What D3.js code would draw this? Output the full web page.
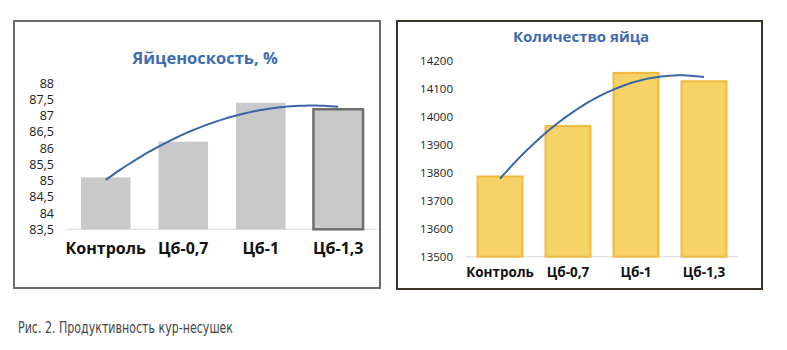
<!DOCTYPE html>
<html><head><meta charset="utf-8">
<script src="https://cdn.jsdelivr.net/npm/d3@7"></script>
<style>body{margin:0;background:#fff}svg{display:block}</style>
</head><body>
<svg id="c" width="787" height="350"></svg>
<script>
const categories = ["Контроль", "Цб-0,7", "Цб-1", "Цб-1,3"];
const eggRate = [85.1, 86.2, 87.4, 87.2];
const eggRateTicks = [83.5, 84, 84.5, 85, 85.5, 86, 86.5, 87, 87.5, 88];
const eggCount = [13790, 13970, 14160, 14130];
const eggCountTicks = [13500, 13600, 13700, 13800, 13900, 14000, 14100, 14200];
const title1 = "Яйценоскость, %";
const title2 = "Количество яйца";
const caption = "Рис. 2. Продуктивность кур-несушек";

const svg = d3.select("#c");
const fmt = d => String(d).replace(".", ",");
const FONT = "'Open Sans', sans-serif";

// quadratic least-squares trendline (like Excel polynomial order 2)
function polyFit(vals) {
  const n = vals.length, xs = vals.map((_, i) => i + 1);
  const mx = d3.mean(xs), my = d3.mean(vals);
  const u = xs.map(x => x - mx);
  const su2 = d3.sum(u, v => v * v) / n;
  const p2 = u.map(v => v * v - su2);
  const b1 = d3.sum(u, (v, i) => v * vals[i]) / d3.sum(u, v => v * v);
  const b2 = d3.sum(p2, (v, i) => v * vals[i]) / d3.sum(p2, v => v * v);
  return x => { const t = x - mx; return my + b1 * t + b2 * (t * t - su2); };
}

function chart(o) {
  const g = svg.append("g");
  g.append("rect").attr("x", o.frame[0]).attr("y", o.frame[1])
    .attr("width", o.frame[2]).attr("height", o.frame[3])
    .attr("fill", "#fff").attr("stroke", o.frameColor).attr("stroke-width", 2);
  g.append("text").attr("x", o.titleX).attr("y", o.titleY)
    .attr("text-anchor", "middle").attr("font-family", FONT)
    .attr("font-weight", "bold").attr("font-size", o.titleSize).attr("fill", "#3f6bb0")
    .text(o.title);
  const x = d3.scaleBand().domain(categories).range([o.x0, o.x1]).paddingInner(o.pad).paddingOuter(o.pad / 2);
  const y = d3.scaleLinear().domain(o.domain).range([o.y0, o.y1]);
  // y axis labels
  const ya = g.append("g").attr("transform", `translate(${o.yLabelX},0)`)
    .call(d3.axisLeft(y).tickValues(o.ticks).tickFormat(o.fmt).tickSize(0).tickPadding(0));
  ya.select(".domain").remove();
  ya.selectAll("text").attr("font-family", FONT).attr("font-size", o.tickSize).attr("fill", "#222");
  // baseline
  g.append("line").attr("x1", o.x0).attr("x2", o.x1).attr("y1", o.y0).attr("y2", o.y0)
    .attr("stroke", "#d9d9d9").attr("stroke-width", 1);
  // bars
  g.selectAll(".bar").data(o.values).join("rect")
    .attr("x", (d, i) => x(categories[i]) + o.bs / 2)
    .attr("width", x.bandwidth() - o.bs)
    .attr("y", d => y(d) + o.bs / 2)
    .attr("height", d => y.range()[0] - y(d) - o.bs / 2)
    .attr("fill", o.fill)
    .attr("stroke", (d, i) => o.strokeFn(i))
    .attr("stroke-width", (d, i) => o.strokeW(i));
  // x labels
  const xa = g.append("g").attr("transform", `translate(0,${o.xLabelY})`)
    .call(d3.axisBottom(x).tickSize(0).tickPadding(0));
  xa.select(".domain").remove();
  xa.selectAll("text").attr("font-family", FONT)
    .attr("font-weight", "bold").attr("font-size", o.xSize).attr("fill", "#111");
  // trendline
  const f = polyFit(o.values);
  const xi = d3.scaleLinear().domain([1, categories.length])
    .range([x(categories[0]) + x.bandwidth() / 2, x(categories[categories.length - 1]) + x.bandwidth() / 2]);
  const pts = d3.range(1, categories.length + 0.001, 0.05).map(t => [xi(t), y(f(t))]);
  g.append("path").attr("d", d3.line().curve(d3.curveBasis)(pts))
    .attr("fill", "none").attr("stroke", "#3b64a8").attr("stroke-width", 2);
}

chart({
  frame: [14, 21, 366, 267], frameColor: "#6a6a6a",
  title: title1, titleX: 205, titleY: 64, titleSize: 16.5,
  x0: 67, x1: 377, pad: 0.36, bs: 0,
  domain: [83.5, 88], y0: 229.3, y1: 83.3, ticks: eggRateTicks, fmt: fmt,
  yLabelX: 54, tickSize: 12.5,
  values: eggRate, fill: "#c9c9c9",
  strokeFn: i => i === 3 ? "#6e6e6e" : "none", strokeW: i => i === 3 ? 2.5 : 0,
  xLabelY: 243, xSize: 16
});

chart({
  frame: [397, 21, 365, 268], frameColor: "#3a3528",
  title: title2, titleX: 581, titleY: 42, titleSize: 15,
  x0: 466, x1: 738, pad: 0.31, bs: 2,
  domain: [13500, 14200], y0: 256.7, y1: 60.7, ticks: eggCountTicks, fmt: d => d,
  yLabelX: 453, tickSize: 11.5,
  values: eggCount, fill: "#f7d367",
  strokeFn: () => "#efb93f", strokeW: () => 2,
  xLabelY: 267, xSize: 13.5
});

svg.append("text").attr("x", 18).attr("y", 333)
  .attr("font-family", "'Liberation Sans Narrow', 'DejaVu Sans Condensed', sans-serif")
  .attr("font-size", 15).attr("fill", "#444")
  .attr("textLength", 215).attr("lengthAdjust", "spacingAndGlyphs")
  .text(caption);
</script>
</body></html>
